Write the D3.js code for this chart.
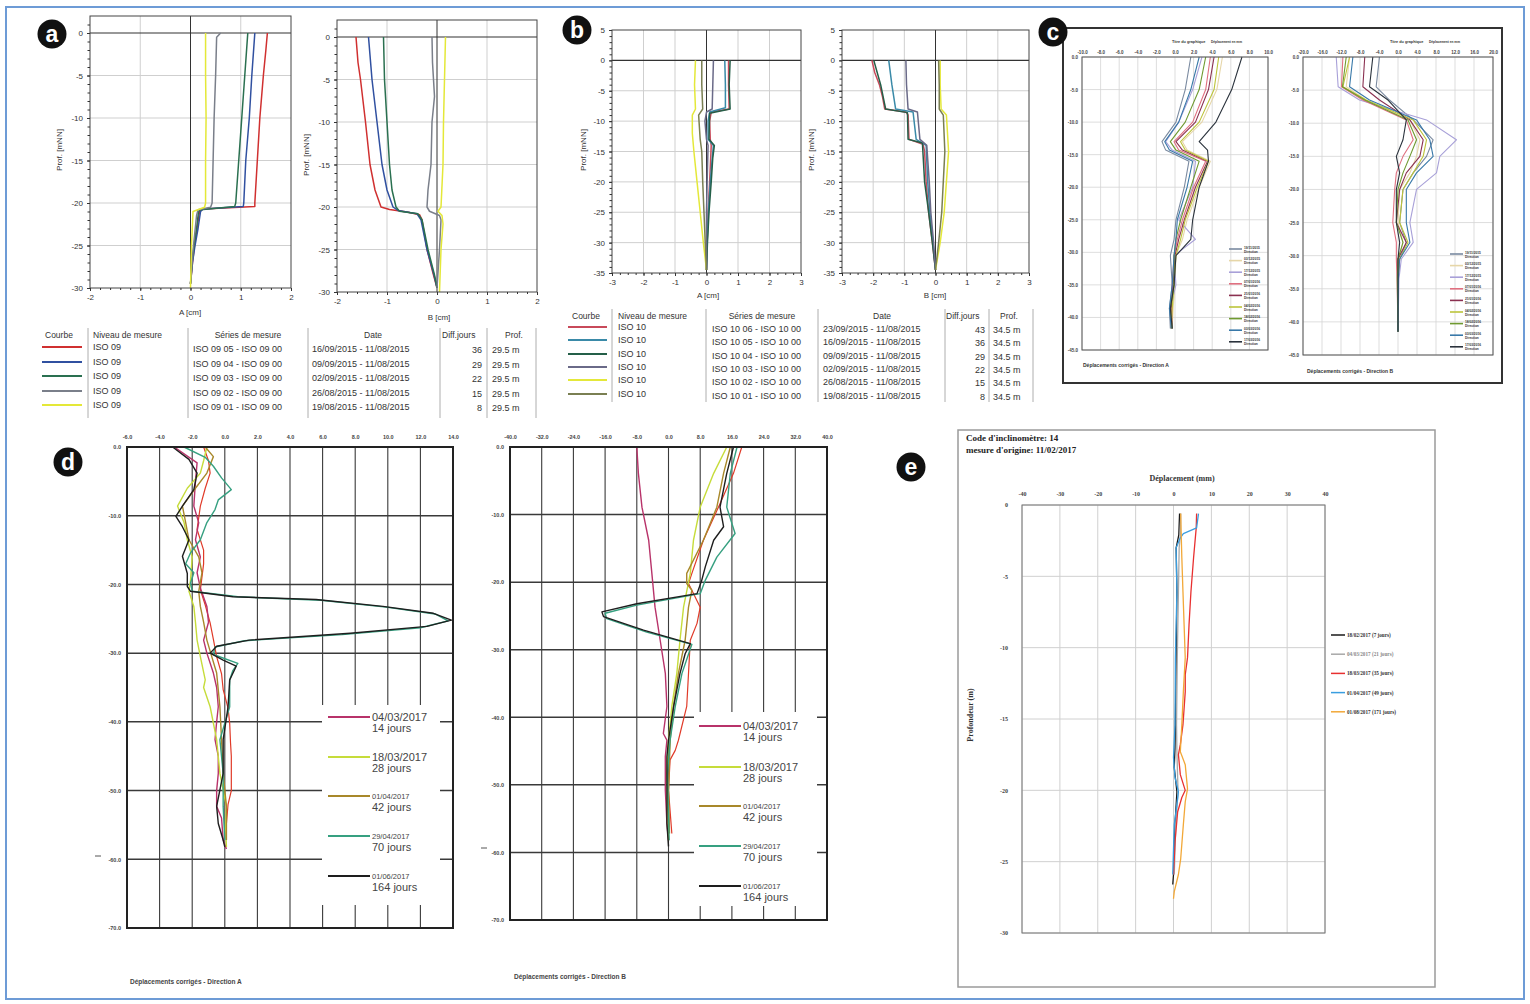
<!DOCTYPE html>
<html>
<head>
<meta charset="utf-8">
<script src="https://cdn.jsdelivr.net/npm/d3@7"></script>
<style>
  body { margin: 0; background: #fff; }
  svg { display: block; }
</style>
</head>
<body>
<svg id="fig" width="1530" height="1004"></svg>
<script>
const fontSans = "'Liberation Sans', Arial, sans-serif";
const fontSerif = "'Liberation Serif', 'Times New Roman', serif";

// ---------------- DATA ----------------
// Panel a : [depth m, displacement cm]
const aA_red = [[0,1.53],[-2,1.5],[-5,1.45],[-10,1.38],[-15,1.33],[-20,1.28],[-20.4,1.28],[-20.7,0.25],[-21,0.18],[-23,0.13],[-25,0.08],[-27,0.04],[-29.5,0]];
const aA_blue = [[0,1.28],[-5,1.22],[-10,1.17],[-15,1.1],[-20,1.06],[-20.4,1.05],[-20.7,0.25],[-21,0.2],[-23,0.15],[-25,0.09],[-27,0.04],[-29.5,0]];
const aA_green = [[0,1.14],[-5,1.08],[-10,1.02],[-15,0.96],[-20,0.9],[-20.4,0.88],[-20.8,0.2],[-21,0.16],[-23,0.12],[-25,0.07],[-27,0.03],[-29.5,0]];
const aA_gray = [[0,0.6],[-0.5,0.52],[-5,0.5],[-10,0.47],[-15,0.45],[-20,0.43],[-20.5,0.4],[-20.8,0.15],[-21.5,0.12],[-25,0.06],[-29.5,0]];
const aA_yellow = [[0,0.3],[-5,0.3],[-10,0.31],[-15,0.3],[-20,0.3],[-20.5,0.28],[-21,0.05],[-25,0.02],[-30,0]];
const aB_red = [[0,-1.62],[-3,-1.58],[-5,-1.53],[-10,-1.43],[-15,-1.34],[-18,-1.24],[-20,-1.12],[-20.3,-0.95],[-20.6,-0.6],[-20.9,-0.35],[-21.5,-0.3],[-25,-0.2],[-28,-0.07],[-29.5,0]];
const aB_blue = [[0,-1.37],[-5,-1.3],[-10,-1.2],[-15,-1.1],[-18,-1.0],[-20,-0.88],[-20.4,-0.78],[-20.8,-0.4],[-21.5,-0.32],[-25,-0.2],[-28,-0.06],[-29.5,0]];
const aB_green = [[0,-1.07],[-5,-1.05],[-10,-1.0],[-15,-0.95],[-18,-0.9],[-20,-0.82],[-20.5,-0.75],[-20.8,-0.38],[-21.5,-0.3],[-25,-0.18],[-28,-0.05],[-29.5,0]];
const aB_gray = [[0,-0.1],[-3,-0.09],[-5,-0.07],[-7,-0.05],[-10,-0.1],[-15,-0.12],[-18,-0.18],[-20,-0.2],[-20.5,-0.15],[-21,0.05],[-21.5,0.08],[-25,0.05],[-29.5,0]];
const aB_yellow = [[0,0.17],[-5,0.15],[-10,0.13],[-15,0.12],[-20,0.08],[-20.5,0.02],[-21,0.1],[-22,0.12],[-25,0.08],[-30,0.05]];
const aColors = ["#d03030", "#3050a0", "#2a7050", "#7a7f8a", "#e4e838"];
const aNiveau = ["ISO 09", "ISO 09", "ISO 09", "ISO 09", "ISO 09"];
const aSeries = ["ISO 09 05 - ISO 09 00", "ISO 09 04 - ISO 09 00", "ISO 09 03 - ISO 09 00", "ISO 09 02 - ISO 09 00", "ISO 09 01 - ISO 09 00"];
const aDates = ["16/09/2015 - 11/08/2015", "09/09/2015 - 11/08/2015", "02/09/2015 - 11/08/2015", "26/08/2015 - 11/08/2015", "19/08/2015 - 11/08/2015"];
const aDiff = [36, 29, 22, 15, 8];
const aProf = ["29.5 m", "29.5 m", "29.5 m", "29.5 m", "29.5 m"];

// Panel b : [depth m, displacement cm]
const bA_red = [[0,0.7],[-4,0.7],[-8,0.72],[-8.5,0.15],[-10,0.1],[-13,0.12],[-14,0.15],[-20,0.1],[-25,0.05],[-30,0.02],[-34.5,0]];
const bA_teal = [[0,0.58],[-4,0.6],[-7.8,0.6],[-8.5,0.1],[-10,0.05],[-13,0.05],[-14,0.22],[-15,0.2],[-20,0.12],[-25,0.06],[-30,0.02],[-34.5,0]];
const bA_green = [[0,0.75],[-4,0.72],[-8,0.75],[-8.7,0.1],[-13,0.08],[-14,0.25],[-16,0.2],[-20,0.15],[-25,0.08],[-30,0.03],[-34.5,0]];
const bA_gray = [[0,0.22],[-4,0.2],[-8,0.18],[-8.5,0.0],[-10,-0.05],[-13,0.0],[-14,0.05],[-20,0.02],[-25,0.0],[-34.5,0]];
const bA_yellow = [[0,-0.35],[-4,-0.38],[-8,-0.35],[-9,-0.45],[-12,-0.45],[-15,-0.4],[-20,-0.3],[-25,-0.2],[-30,-0.1],[-34.5,0]];
const bA_olive = [[0,-0.15],[-4,-0.15],[-8,-0.12],[-9,-0.25],[-13,-0.2],[-15,-0.15],[-20,-0.12],[-25,-0.08],[-30,-0.04],[-34.5,0]];
const bB_red = [[0,-2.04],[-2,-1.95],[-4,-1.8],[-6,-1.7],[-8,-1.63],[-8.5,-0.95],[-9,-0.88],[-13,-0.85],[-13.8,-0.4],[-15,-0.35],[-20,-0.3],[-25,-0.22],[-30,-0.1],[-34.5,0]];
const bB_teal = [[0,-1.5],[-4,-1.4],[-8,-1.28],[-8.5,-0.72],[-13,-0.62],[-14,-0.3],[-20,-0.25],[-25,-0.18],[-30,-0.08],[-34.5,0]];
const bB_green = [[0,-1.98],[-4,-1.76],[-8,-1.6],[-8.6,-0.9],[-13,-0.88],[-13.6,-0.42],[-20,-0.35],[-25,-0.22],[-30,-0.1],[-34.5,0]];
const bB_gray = [[0,-0.95],[-4,-0.93],[-8,-0.88],[-8.5,-0.58],[-13,-0.5],[-14,-0.28],[-20,-0.2],[-25,-0.15],[-30,-0.06],[-34.5,0]];
const bB_yellow = [[0,0.15],[-4,0.15],[-8,0.18],[-9,0.35],[-15,0.42],[-20,0.35],[-25,0.28],[-30,0.15],[-34.5,0]];
const bB_olive = [[0,0.1],[-4,0.12],[-8,0.12],[-9,0.25],[-15,0.3],[-20,0.25],[-25,0.2],[-30,0.1],[-34.5,0]];
const bColors = ["#c84a5a", "#3a8aa8", "#245f48", "#6a6a88", "#e4e83a", "#7a7f52"];
const bNiveau = ["ISO 10", "ISO 10", "ISO 10", "ISO 10", "ISO 10", "ISO 10"];
const bSeries = ["ISO 10 06 - ISO 10 00", "ISO 10 05 - ISO 10 00", "ISO 10 04 - ISO 10 00", "ISO 10 03 - ISO 10 00", "ISO 10 02 - ISO 10 00", "ISO 10 01 - ISO 10 00"];
const bDates = ["23/09/2015 - 11/08/2015", "16/09/2015 - 11/08/2015", "09/09/2015 - 11/08/2015", "02/09/2015 - 11/08/2015", "26/08/2015 - 11/08/2015", "19/08/2015 - 11/08/2015"];
const bDiff = [43, 36, 29, 22, 15, 8];
const bProf = ["34.5 m", "34.5 m", "34.5 m", "34.5 m", "34.5 m", "34.5 m"];

// Panel c : shared depths, displacement mm per curve
const cLeftDepth = [0, -5, -10, -13, -14.3, -16, -20, -25, -28, -30.5, -35, -38.6, -41.7];
const cL1 = [1.7, 1.1, 0.1, -1.4, -1.0, 1.5, 1.0, 0.1, -0.1, -0.5, -0.3, -0.6, -0.5];
const cL2 = [5.1, 4.5, 2.9, 0.8, 1.3, 3.8, 2.6, 1.3, 0.8, 0.1, 0, -0.2, -0.3];
const cL3 = [2.9, 1.9, 0.4, -1.0, -0.3, 2.2, 1.9, 0.4, 2.2, -0.1, 0.1, -0.5, -0.3];
const cL4 = [3.8, 3.3, 1.9, -0.1, 0.4, 3.3, 2.0, 0.8, 0.25, -0.1, -0.3, -0.3, -0.4];
const cL5 = [4.2, 3.6, 2.2, 0.1, 0.8, 3.5, 2.2, 1.0, 0.4, 0, -0.2, -0.4, -0.3];
const cL6 = [4.7, 4.2, 2.6, 0.6, 1.1, 3.6, 2.4, 1.1, 0.6, 0.1, -0.1, -0.3, -0.4];
const cL7 = [3.3, 2.6, 1.1, -0.5, 0.1, 2.6, 1.7, 0.6, 0.1, -0.1, -0.1, -0.5, -0.3];
const cL8 = [2.6, 1.7, 0.4, -1.1, -0.6, 1.9, 1.3, 0.25, 0.1, -0.1, -0.3, -0.6, -0.4];
const cL9 = [7.2, 6.1, 4.4, 2.6, 3.5, 3.6, 2.6, 1.9, 1.7, 0.1, -0.1, -0.5, -0.3];
const cRightDepth = [0, -4.5, -6.5, -9.5, -12.5, -15, -17.5, -20, -25, -28, -30.5, -33.5, -41.5];
const cR1 = [-3.9, -4.6, -1.8, 3.2, 7.4, 6.0, 3.2, 1.05, 0.35, 1.75, 0.35, 0, 0];
const cR2 = [-10.2, -10.9, -6.7, 2.5, 4.6, 3.9, 2.5, 0.35, 0, 1.05, 0.2, 0, 0];
const cR3 = [-13.0, -12.6, -8.1, 6.0, 12.3, 8.8, 8.1, 3.9, 2.5, 3.2, 0.7, 0.2, 0];
const cR4 = [-11.6, -11.9, -7.4, 1.75, 3.2, 1.05, -0.35, -0.7, -1.1, -0.35, -0.35, -0.2, 0];
const cR5 = [-7.0, -7.4, -3.9, 2.5, 5.3, 4.6, 1.75, 0.35, -0.35, 1.75, 0, 0, 0];
const cR6 = [-10.2, -11.6, -6.7, 3.2, 6.0, 5.3, 3.2, 1.05, 0.35, 2.1, 0.35, 0, 0];
const cR7 = [-10.9, -11.7, -7.0, 2.1, 3.9, 2.5, 1.05, 0, -0.35, 1.05, 0, -0.15, 0];
const cR8 = [-9.5, -10.2, -6.0, 3.9, 6.7, 7.4, 3.9, 1.75, 1.75, 2.5, 0.35, 0.07, 0];
const cR9 = [-5.3, -6.0, -2.1, 1.75, 1.05, -0.35, 0.35, -0.35, -0.35, 0.35, 0, 0, 0];
const cColors = ["#7a8aa0", "#e6d6a8", "#a8a0d8", "#e07080", "#8a3050", "#bcc43a", "#6f9a30", "#3878a8", "#2a323c"];
const cLegendDates = ["19/11/2015", "03/12/2015", "17/12/2015", "07/01/2016", "21/01/2016", "04/02/2016", "18/02/2016", "03/03/2016", "17/03/2016"];
const cLeftXTicks = [-10, -8, -6, -4, -2, 0, 2, 4, 6, 8, 10];
const cRightXTicks = [-20, -16, -12, -8, -4, 0, 4, 8, 12, 16, 20];
const cYTicks = [0, -5, -10, -15, -20, -25, -30, -35, -40, -45];

// Panel d : [depth m, displacement]
const dA_14 = [[0,-3.1],[-2.3,-1.7],[-5,-1.8],[-8.6,-1.9],[-11,-1.6],[-13.5,-1.8],[-16,-1.5],[-18.3,-1.7],[-20.5,-1.5],[-23.2,-1.1],[-25.5,-1.0],[-28.1,-1.3],[-30,-1.1],[-32.9,-0.7],[-35,-0.5],[-37.8,-0.4],[-40,-0.5],[-42.6,-0.6],[-45,-0.4],[-47.5,-0.4],[-50,-0.5],[-52.3,-0.5],[-54,-0.2],[-57.2,-0.1],[-58.5,0.1]];
const dA_red = [[0,-1.3],[-2,-1.0],[-3.8,-0.9],[-6,-1.2],[-8.6,-1.5],[-12,-1.7],[-15,-1.3],[-17,-1.3],[-20.8,-1.5],[-23,-1.2],[-25.6,-0.9],[-28,-0.7],[-30.5,-0.5],[-33,-0.2],[-35.3,-0.1],[-38,0.2],[-40.2,0.3],[-43,0.35],[-45,0.4],[-47.5,0.4],[-50,0.4],[-52,0.2],[-54.8,0.1],[-57,0]];
const dA_28 = [[0,-1.1],[-2,-1.3],[-3.8,-1.5],[-6,-2.3],[-8.6,-2.9],[-11,-2.5],[-13.5,-2.3],[-16,-2.0],[-19.3,-2.1],[-21,-2.2],[-23.2,-1.9],[-25.5,-1.8],[-28.1,-1.7],[-30.5,-1.5],[-33.9,-1.2],[-35,-1.3],[-37.8,-0.9],[-42.6,-0.5],[-47.5,-0.3],[-52.3,0.1],[-55,0.05],[-58.2,0.1]];
const dA_42 = [[0,-1.2],[-1.4,-0.7],[-3.8,-1.1],[-6,-1.8],[-8.6,-2.6],[-11,-2.4],[-13.5,-2.2],[-16,-1.6],[-18.3,-1.4],[-21,-1.6],[-23.2,-1.5],[-25.5,-1.3],[-28.1,-1.1],[-30.5,-0.8],[-32.9,-0.5],[-37.8,-0.3],[-42.6,-0.2],[-47.5,-0.1],[-52.3,0.1],[-57.2,0.1]];
const dA_70 = [[0,-2.5],[-1.5,-1.2],[-2.8,-0.7],[-4.5,-0.2],[-6.2,0.4],[-7.7,-0.4],[-9.1,-0.6],[-11,-1.1],[-13.5,-1.5],[-15.4,-2.1],[-17,-2.4],[-18.3,-1.9],[-19.8,-2.1],[-21,-2.0],[-21.8,0.8],[-22.3,5.9],[-23.3,9.9],[-24.3,12.9],[-25.3,13.7],[-26.3,12.0],[-27.3,7.2],[-28.2,1.2],[-29.1,-0.6],[-30.2,-0.7],[-31.5,0.8],[-32.5,0.5],[-33.9,0.3],[-37.8,0.3],[-42.6,-0.3],[-47.5,-0.1],[-52.3,-0.1],[-57.2,0]];
const dA_164 = [[0,-3.2],[-1.8,-2.2],[-3.8,-1.7],[-6.2,-1.9],[-8.6,-2.6],[-10.1,-3.0],[-11.6,-2.6],[-13.5,-2.2],[-15.9,-2.6],[-18.4,-2.3],[-20.3,-2.3],[-21,-2.1],[-21.8,0.5],[-22.2,5.6],[-23.2,9.7],[-24.2,12.8],[-25.2,13.9],[-26.1,12.4],[-27.1,7.7],[-28.1,1.5],[-29,-0.5],[-30,-0.9],[-31,-0.1],[-31.9,0.7],[-33.9,0.3],[-37.8,0.2],[-42.6,-0.1],[-47.5,-0.1],[-52.3,-0.5],[-54.8,-0.4],[-57.2,-0.1],[-58.2,0]];
const dB_14 = [[0,-8.0],[-3.9,-7.6],[-8.9,-6.7],[-13.8,-5.0],[-18.7,-4.2],[-23.7,-3.4],[-28.6,-2.1],[-33.5,-0.8],[-38.4,-0.4],[-42.4,-1.3],[-43.4,-0.4],[-45.8,-0.8],[-50.8,-0.8],[-55.7,-0.4],[-58.2,0]];
const dB_red = [[0,18.5],[-3.9,16.4],[-8.9,12.6],[-13.8,8.8],[-18.7,5.9],[-20.2,5.05],[-23.7,8.0],[-26.1,7.2],[-28.6,5.5],[-33.5,5.05],[-38.4,4.6],[-43.4,2.5],[-44.9,1.7],[-46.3,0.4],[-50.8,0],[-57.2,0.84]];
const dB_28 = [[0,14.7],[-3.9,11.4],[-8.9,8.0],[-13.8,6.3],[-18.7,5.5],[-23.7,3.8],[-28.6,2.9],[-33.5,2.1],[-38.4,0.84],[-43.4,0],[-48.3,-0.42],[-58.2,0]];
const dB_42 = [[0,15.6],[-3.9,13.9],[-8.9,12.2],[-13.8,8.8],[-18.7,4.6],[-20.2,4.6],[-21.2,5.9],[-23.7,5.05],[-28.6,4.2],[-33.5,2.5],[-38.4,1.26],[-43.4,0.42],[-50.8,0],[-57.2,0.25]];
const dB_70 = [[0,17.3],[-3.9,15.6],[-8.9,14.7],[-12.8,16.8],[-16.3,12.2],[-19.7,9.3],[-21.7,8.0],[-23.4,-8.0],[-24.6,-16.0],[-25.4,-15.6],[-27.4,-5.5],[-29.2,5.9],[-33.5,3.4],[-38.4,1.7],[-43.4,0.4],[-48.3,-0.25],[-58.2,0.17]];
const dB_164 = [[0,16.4],[-3.9,14.7],[-8.9,13.0],[-11.8,13.9],[-13.8,11.4],[-17.7,9.3],[-19.7,8.4],[-21.7,7.2],[-23.2,-8.0],[-24.4,-16.8],[-25.1,-16.4],[-27.1,-6.3],[-29.1,5.5],[-30.6,4.2],[-33.5,2.9],[-38.4,1.3],[-43.4,0],[-45.8,-0.4],[-50.8,-0.4],[-55.7,-0.4],[-59.1,0]];
const dDates = ["04/03/2017", "18/03/2017", "01/04/2017", "29/04/2017", "01/06/2017"];
const dDays = ["14 jours", "28 jours", "42 jours", "70 jours", "164 jours"];
const dColors = ["#b8336a", "#c6dc3a", "#a8882a", "#36a080", "#1e1e1e"];
const dRed = "#e03a28";
const dLeftXTicks = [-6, -4, -2, 0, 2, 4, 6, 8, 10, 12, 14];
const dRightXTicks = [-40, -32, -24, -16, -8, 0, 8, 16, 24, 32, 40];
const dYTicks = [0, -10, -20, -30, -40, -50, -60, -70];

// Panel e : [depth m, displacement mm]
const e_7 = [[-0.6,1.6],[-2.1,1.4],[-3.0,0.7],[-6.1,0.9],[-10.7,0.7],[-15.4,0.5],[-17,0.4],[-18.4,0.2],[-20.1,0.9],[-22.4,0.4],[-25.9,0],[-26.6,-0.2]];
const e_21 = [[-0.6,1.9],[-2.1,1.8],[-3.0,1.5],[-6.1,1.3],[-10.7,1.0],[-15.4,0.8],[-17.3,0.9],[-20.1,1.2],[-22.4,0.6],[-25.9,0.2]];
const e_35 = [[-0.6,6.1],[-1.6,6.0],[-3.7,5.3],[-6.1,4.6],[-8.4,4.1],[-10.7,3.7],[-11.9,3.1],[-13.1,3.1],[-15.4,2.5],[-16.8,1.8],[-17.5,1.3],[-18.9,1.8],[-20,3.1],[-20.5,2.2],[-21.5,1.1],[-23.6,0.4],[-25.9,0]];
const e_49 = [[-0.6,6.6],[-1.6,6.1],[-2.0,2.6],[-2.3,1.8],[-3.0,0.7],[-6.1,0.9],[-10.7,0.5],[-15.4,0.4],[-17.7,0],[-19.1,0.4],[-20.1,1.3],[-21,0.9],[-22.4,0.2],[-25.9,-0.2]];
const e_171 = [[-0.6,1.9],[-3.7,2.2],[-6.1,2.5],[-8.4,2.8],[-10.7,3.1],[-13.1,2.6],[-15.4,2.2],[-17.3,1.8],[-18.2,3.1],[-19.9,3.7],[-20.8,3.1],[-22.4,2.6],[-24.8,1.9],[-25.9,1.3],[-27.1,0.2],[-27.6,0]];
const eLabels = ["18/02/2017 (7 jours)", "04/03/2017 (21 jours)", "18/03/2017 (35 jours)", "01/04/2017 (49 jours)", "01/08/2017 (171 jours)"];
const eColors = ["#1a1a1a", "#a8a8a8", "#e83030", "#3a9ee0", "#f2a838"];
const eXTicks = [-40, -30, -20, -10, 0, 10, 20, 30, 40];
const eYTicks = [0, -5, -10, -15, -20, -25, -30];

// ---------------- DRAWING ----------------
const svg = d3.select("#fig");

// outer frame of the figure
svg.append("rect")
    .attr("x", 6).attr("y", 7).attr("width", 1518).attr("height", 992)
    .attr("fill", "none").attr("stroke", "#6d9bd6").attr("stroke-width", 2);

function styleAxis(sel, cfg) {
    sel.select(".domain").remove();
    sel.selectAll(".tick line").attr("stroke", cfg.tickColor || "#333");
    sel.selectAll(".tick text")
        .attr("fill", cfg.textColor || "#333")
        .attr("font-size", cfg.fontSize)
        .attr("font-family", cfg.font || fontSans)
        .attr("font-weight", cfg.fontWeight || "normal");
}

// Draws one depth profile (depth on y, displacement on x)
function profile(cfg) {
    const g = svg.append("g");
    const x = d3.scaleLinear().domain(cfg.xDomain).range([cfg.left, cfg.right]);
    const y = d3.scaleLinear().domain(cfg.yDomain).range([cfg.top, cfg.bottom]);

    g.append("g").selectAll("line")
        .data(cfg.xGrid).join("line")
        .attr("x1", d => x(d)).attr("x2", d => x(d))
        .attr("y1", cfg.top).attr("y2", cfg.bottom)
        .attr("stroke", cfg.gridColor).attr("stroke-width", cfg.gridWidth);
    g.append("g").selectAll("line")
        .data(cfg.yGrid).join("line")
        .attr("x1", cfg.left).attr("x2", cfg.right)
        .attr("y1", d => y(d)).attr("y2", d => y(d))
        .attr("stroke", cfg.gridColor).attr("stroke-width", cfg.hGridWidth || cfg.gridWidth);

    if (cfg.zero) {
        g.append("line").attr("x1", x(0)).attr("x2", x(0)).attr("y1", cfg.top).attr("y2", cfg.bottom)
            .attr("stroke", "#333").attr("stroke-width", 1);
        g.append("line").attr("x1", cfg.left).attr("x2", cfg.right).attr("y1", y(0)).attr("y2", y(0))
            .attr("stroke", "#333").attr("stroke-width", 1.2);
    }

    // white legend area cut out of the grid
    if (cfg.legendBox) {
        const b = cfg.legendBox;
        g.append("rect").attr("x", b[0]).attr("y", b[1]).attr("width", b[2]).attr("height", b[3]).attr("fill", "#fff");
    }

    const line = d3.line().x(d => x(d[1])).y(d => y(d[0]));
    g.append("g").selectAll("path")
        .data(cfg.series).join("path")
        .attr("d", s => line(s.data))
        .attr("fill", "none")
        .attr("stroke", s => s.color)
        .attr("stroke-width", s => s.width || cfg.lineWidth)
        .attr("stroke-linejoin", "round");

    g.append("rect")
        .attr("x", cfg.left).attr("y", cfg.top)
        .attr("width", cfg.right - cfg.left).attr("height", cfg.bottom - cfg.top)
        .attr("fill", "none").attr("stroke", cfg.frameColor).attr("stroke-width", cfg.frameWidth);

    const xAxis = (cfg.xTop ? d3.axisTop(x) : d3.axisBottom(x))
        .tickValues(cfg.xTicks).tickFormat(cfg.xFormat)
        .tickSize(cfg.tickSize).tickPadding(cfg.xPad);
    g.append("g")
        .attr("transform", `translate(0,${cfg.xTop ? cfg.top : cfg.bottom})`)
        .call(xAxis).call(styleAxis, cfg);

    const yAxis = d3.axisLeft(y)
        .tickValues(cfg.yTicks).tickFormat(cfg.yFormat)
        .tickSize(cfg.tickSize).tickPadding(cfg.yPad);
    g.append("g")
        .attr("transform", `translate(${cfg.left},0)`)
        .call(yAxis).call(styleAxis, cfg);

    if (cfg.yMinor) {
        g.append("g")
            .attr("transform", `translate(${cfg.left},0)`)
            .call(d3.axisLeft(y).tickValues(cfg.yMinor).tickFormat("").tickSize(2.5))
            .call(styleAxis, cfg);
    }
    if (cfg.xMinor) {
        g.append("g")
            .attr("transform", `translate(0,${cfg.bottom})`)
            .call(d3.axisBottom(x).tickValues(cfg.xMinor).tickFormat("").tickSize(2))
            .call(styleAxis, cfg);
    }
    return { g, x, y };
}

function text(x, y, str, opts = {}) {
    return svg.append("text")
        .attr("x", x).attr("y", y)
        .attr("text-anchor", opts.anchor || "start")
        .attr("font-size", opts.size || 9)
        .attr("font-family", opts.font || fontSans)
        .attr("font-weight", opts.weight || "normal")
        .attr("fill", opts.color || "#333")
        .attr("transform", opts.rotate ? `rotate(-90,${x},${y})` : null)
        .text(str);
}

function panelLabel(cx, cy, letter) {
    svg.append("circle").attr("cx", cx).attr("cy", cy).attr("r", 14.5).attr("fill", "#111");
    text(cx, cy + 7.5, letter, { anchor: "middle", size: 23, weight: "bold", color: "#fff" });
}

const fmtInt = d => String(d);
const fmt1 = d => d.toFixed(1);

// ---------- panel a ----------
const abBase = {
    gridColor: "#cfcfcf", gridWidth: 1, frameColor: "#444", frameWidth: 1,
    zero: true, fontSize: 8, tickSize: 3, xPad: 3, yPad: 4, lineWidth: 1.5,
    xFormat: fmtInt, yFormat: fmtInt, textColor: "#333"
};
const aXTicks = [-2, -1, 0, 1, 2];
const aYTicks = [0, -5, -10, -15, -20, -25, -30];
const aA = [aA_red, aA_blue, aA_green, aA_gray, aA_yellow];
const aB = [aB_red, aB_blue, aB_green, aB_gray, aB_yellow];

profile(Object.assign({}, abBase, {
    left: 90, right: 291, top: 16, bottom: 288, xDomain: [-2, 2], yDomain: [2, -30],
    xGrid: [-1, 1], yGrid: [-5, -10, -15, -20, -25], xTicks: aXTicks, yTicks: aYTicks,
    yMinor: d3.range(1, -30, -1), xMinor: d3.range(-1.8, 2, 0.2),
    series: aA.map((d, i) => ({ data: d, color: aColors[i] }))
}));
profile(Object.assign({}, abBase, {
    left: 337, right: 537, top: 20, bottom: 292, xDomain: [-2, 2], yDomain: [2, -30],
    xGrid: [-1, 1], yGrid: [-5, -10, -15, -20, -25], xTicks: aXTicks, yTicks: aYTicks,
    yMinor: d3.range(1, -30, -1), xMinor: d3.range(-1.8, 2, 0.2),
    series: aB.map((d, i) => ({ data: d, color: aColors[i] }))
}));
text(62, 150, "Prof. [mNN]", { anchor: "middle", size: 8, rotate: true });
text(309, 155, "Prof. [mNN]", { anchor: "middle", size: 8, rotate: true });
text(190, 315, "A [cm]", { anchor: "middle", size: 8 });
text(439, 320, "B [cm]", { anchor: "middle", size: 8 });
panelLabel(52, 34, "a");

// Tables under a and b
function drawTable(t) {
    const g = svg.append("g");
    g.selectAll("line").data(t.seps).join("line")
        .attr("x1", d => d).attr("x2", d => d).attr("y1", t.y0).attr("y2", t.y1)
        .attr("stroke", "#9a9a9a").attr("stroke-width", 0.8);
    t.headers.forEach(h => text(h[1], t.headY, h[0], { anchor: h[2] || "start", size: 8.5 }));
    t.niveau.forEach((n, i) => {
        const yy = t.rowY[i];
        g.append("line").attr("x1", t.swatch[0]).attr("x2", t.swatch[1]).attr("y1", yy).attr("y2", yy)
            .attr("stroke", t.colors[i]).attr("stroke-width", 2);
        text(t.cols[0], yy + 3, n, { size: 9 });
        text(t.cols[1], yy + 5, t.series[i], { size: 9 });
        text(t.cols[2], yy + 5, t.dates[i], { size: 9 });
        text(t.cols[3], yy + 6, t.diff[i], { size: 9, anchor: "end" });
        text(t.cols[4], yy + 6, t.prof[i], { size: 9 });
    });
}
drawTable({
    seps: [88, 188, 308, 440, 487, 536], y0: 328, y1: 418, headY: 338,
    headers: [["Courbe", 45], ["Niveau de mesure", 93], ["Séries de mesure", 248, "middle"], ["Date", 373, "middle"], ["Diff.jours", 442], ["Prof.", 505]],
    rowY: [347, 362, 376, 391, 405], swatch: [42, 82], cols: [93, 193, 312, 482, 492],
    niveau: aNiveau, series: aSeries, dates: aDates, diff: aDiff, prof: aProf, colors: aColors
});

// ---------- panel b ----------
const bXTicks = [-3, -2, -1, 0, 1, 2, 3];
const bYTicks = [5, 0, -5, -10, -15, -20, -25, -30, -35];
const bA = [bA_red, bA_teal, bA_green, bA_gray, bA_yellow, bA_olive];
const bB = [bB_red, bB_teal, bB_green, bB_gray, bB_yellow, bB_olive];
profile(Object.assign({}, abBase, {
    left: 612, right: 801, top: 30, bottom: 273, xDomain: [-3, 3], yDomain: [5, -35],
    xGrid: [-2, -1, 1, 2], yGrid: [-5, -10, -15, -20, -25, -30], xTicks: bXTicks, yTicks: bYTicks,
    yMinor: d3.range(4, -35, -1), xMinor: d3.range(-2.75, 3, 0.25),
    series: bA.map((d, i) => ({ data: d, color: bColors[i] }))
}));
profile(Object.assign({}, abBase, {
    left: 842, right: 1029, top: 30, bottom: 273, xDomain: [-3, 3], yDomain: [5, -35],
    xGrid: [-2, -1, 1, 2], yGrid: [-5, -10, -15, -20, -25, -30], xTicks: bXTicks, yTicks: bYTicks,
    yMinor: d3.range(4, -35, -1), xMinor: d3.range(-2.75, 3, 0.25),
    series: bB.map((d, i) => ({ data: d, color: bColors[i] }))
}));
text(586, 150, "Prof. [mNN]", { anchor: "middle", size: 8, rotate: true });
text(814, 150, "Prof. [mNN]", { anchor: "middle", size: 8, rotate: true });
text(708, 298, "A [cm]", { anchor: "middle", size: 8 });
text(935, 298, "B [cm]", { anchor: "middle", size: 8 });
panelLabel(577, 30, "b");
drawTable({
    seps: [612, 706, 818, 945, 989, 1033], y0: 309, y1: 402, headY: 319,
    headers: [["Courbe", 572], ["Niveau de mesure", 618], ["Séries de mesure", 762, "middle"], ["Date", 882, "middle"], ["Diff.jours", 946], ["Prof.", 1000]],
    rowY: [327, 340, 354, 367, 380, 394], swatch: [568, 607], cols: [618, 712, 823, 985, 993],
    niveau: bNiveau, series: bSeries, dates: bDates, diff: bDiff, prof: bProf, colors: bColors
});

// ---------- panel c ----------
svg.append("rect").attr("x", 1063).attr("y", 28).attr("width", 439).attr("height", 355)
    .attr("fill", "none").attr("stroke", "#333").attr("stroke-width", 2);
const cBase = {
    gridColor: "#d4d4d4", gridWidth: 0.8, frameColor: "#555", frameWidth: 1,
    fontSize: 4.5, fontWeight: "bold", tickSize: 0, xPad: 3, yPad: 4, lineWidth: 1.1,
    xFormat: fmt1, yFormat: fmt1, xTop: true, textColor: "#444"
};
const cLeftCurves = [cL1, cL2, cL3, cL4, cL5, cL6, cL7, cL8, cL9];
const cRightCurves = [cR1, cR2, cR3, cR4, cR5, cR6, cR7, cR8, cR9];
profile(Object.assign({}, cBase, {
    left: 1082, right: 1268, top: 57, bottom: 350, xDomain: [-10, 10], yDomain: [0, -45],
    xGrid: cLeftXTicks, yGrid: cYTicks, xTicks: cLeftXTicks, yTicks: cYTicks,
    series: cLeftCurves.map((v, i) => ({ data: v.map((d, j) => [cLeftDepth[j], d]), color: cColors[i] }))
}));
profile(Object.assign({}, cBase, {
    left: 1303, right: 1493, top: 57, bottom: 355, xDomain: [-20, 20], yDomain: [0, -45],
    xGrid: cRightXTicks, yGrid: cYTicks, xTicks: cRightXTicks, yTicks: cYTicks,
    series: cRightCurves.map((v, i) => ({ data: v.map((d, j) => [cRightDepth[j], d]), color: cColors[i] }))
}));
text(1172, 43, "Titre du graphique", { size: 3.8, weight: "bold" });
text(1211, 43, "Déplacement en mm", { size: 3.2, weight: "bold" });
text(1390, 43, "Titre du graphique", { size: 3.8, weight: "bold" });
text(1429, 43, "Déplacement en mm", { size: 3.2, weight: "bold" });
text(1083, 367, "Déplacements corrigés - Direction A", { size: 5, weight: "bold" });
text(1307, 373, "Déplacements corrigés - Direction B", { size: 5, weight: "bold" });
function cLegend(x0, y0) {
    cColors.forEach((c, i) => {
        const yy = y0 + i * 11.6;
        svg.append("line").attr("x1", x0).attr("x2", x0 + 13).attr("y1", yy).attr("y2", yy)
            .attr("stroke", c).attr("stroke-width", 1.6);
        text(x0 + 15, yy - 0.5, cLegendDates[i], { size: 3.2, weight: "bold" });
        text(x0 + 15, yy + 3.5, "Direction", { size: 3.2, weight: "bold" });
    });
}
cLegend(1229, 249);
cLegend(1450, 254);
panelLabel(1053, 32, "c");

// ---------- panel d ----------
const dBase = {
    gridColor: "#3a3a3a", gridWidth: 1.1, hGridWidth: 1.5, frameColor: "#222", frameWidth: 2,
    fontSize: 5.5, fontWeight: "bold", tickSize: 0, xPad: 8, yPad: 6, lineWidth: 1.4,
    xFormat: fmt1, yFormat: fmt1, xTop: true, textColor: "#444"
};
const dA = [dA_14, dA_28, dA_42, dA_70, dA_164];
const dB = [dB_14, dB_28, dB_42, dB_70, dB_164];
profile(Object.assign({}, dBase, {
    left: 127, right: 453, top: 447, bottom: 928, xDomain: [-6, 14], yDomain: [0, -70],
    xGrid: dLeftXTicks, yGrid: dYTicks, xTicks: dLeftXTicks, yTicks: dYTicks,
    legendBox: [322, 705, 118, 200],
    series: [{ data: dA_red, color: dRed, width: 1.2 }].concat(dA.map((d, i) => ({ data: d, color: dColors[i] })))
}));
profile(Object.assign({}, dBase, {
    left: 510, right: 827, top: 447, bottom: 920, xDomain: [-40, 40], yDomain: [0, -70],
    xGrid: dRightXTicks, yGrid: dYTicks, xTicks: dRightXTicks, yTicks: dYTicks,
    legendBox: [694, 712, 123, 194],
    series: [{ data: dB_red, color: dRed, width: 1.2 }].concat(dB.map((d, i) => ({ data: d, color: dColors[i] })))
}));
function dLegend(x0, ys) {
    dDates.forEach((dt, i) => {
        const yy = ys[i];
        svg.append("line").attr("x1", x0).attr("x2", x0 + 42).attr("y1", yy).attr("y2", yy)
            .attr("stroke", dColors[i]).attr("stroke-width", 2.2);
        const small = i >= 2;
        text(x0 + 44, yy + (small ? 3 : 4), dt, { size: small ? 7.5 : 11, color: "#444" });
        text(x0 + 44, yy + 15, dDays[i], { size: 11, color: "#444" });
    });
}
dLegend(328, [717, 757, 796, 836, 876]);
dLegend(699, [726, 767, 806, 846, 886]);
text(130, 984, "Déplacements corrigés    - Direction A", { size: 6.5, weight: "bold", color: "#444" });
text(514, 979, "Déplacements corrigés    - Direction B", { size: 6.5, weight: "bold", color: "#444" });
svg.append("line").attr("x1", 95).attr("x2", 101).attr("y1", 856).attr("y2", 856).attr("stroke", "#555");
svg.append("line").attr("x1", 481).attr("x2", 487).attr("y1", 848).attr("y2", 848).attr("stroke", "#555");
panelLabel(68, 462, "d");

// ---------- panel e ----------
svg.append("rect").attr("x", 958).attr("y", 430).attr("width", 477).attr("height", 557)
    .attr("fill", "none").attr("stroke", "#9a9a9a").attr("stroke-width", 1.5);
const eSeries = [e_7, e_21, e_35, e_49, e_171];
profile({
    left: 1022, right: 1325, top: 505, bottom: 933, xDomain: [-40, 40], yDomain: [0, -30],
    xGrid: eXTicks, yGrid: eYTicks, xTicks: eXTicks, yTicks: eYTicks,
    gridColor: "#d0d0d0", gridWidth: 1, frameColor: "#777", frameWidth: 1,
    fontSize: 6, fontWeight: "bold", font: fontSerif, tickSize: 0, xPad: 9, yPad: 14,
    lineWidth: 1.3, xFormat: fmtInt, yFormat: fmtInt, xTop: true, textColor: "#444",
    series: eSeries.map((d, i) => ({ data: d, color: eColors[i] }))
});
text(966, 441, "Code d'inclinomètre: 14", { size: 9, weight: "bold", font: fontSerif, color: "#222" });
text(966, 453, "mesure d'origine: 11/02/2017", { size: 9, weight: "bold", font: fontSerif, color: "#222" });
text(1182, 481, "Déplacement (mm)", { size: 8, weight: "bold", font: fontSerif, anchor: "middle", color: "#333" });
text(973, 715, "Profondeur (m)", { size: 8, weight: "bold", font: fontSerif, anchor: "middle", rotate: true, color: "#333" });
eLabels.forEach((lab, i) => {
    const yy = 635 + i * 19.2;
    svg.append("line").attr("x1", 1331).attr("x2", 1345).attr("y1", yy).attr("y2", yy)
        .attr("stroke", eColors[i]).attr("stroke-width", 1.5);
    text(1347, yy + 2, lab, { size: 5.2, weight: "bold", font: fontSerif, color: i === 1 ? "#888" : "#333" });
});
panelLabel(911, 467, "e");
</script>
</body>
</html>
